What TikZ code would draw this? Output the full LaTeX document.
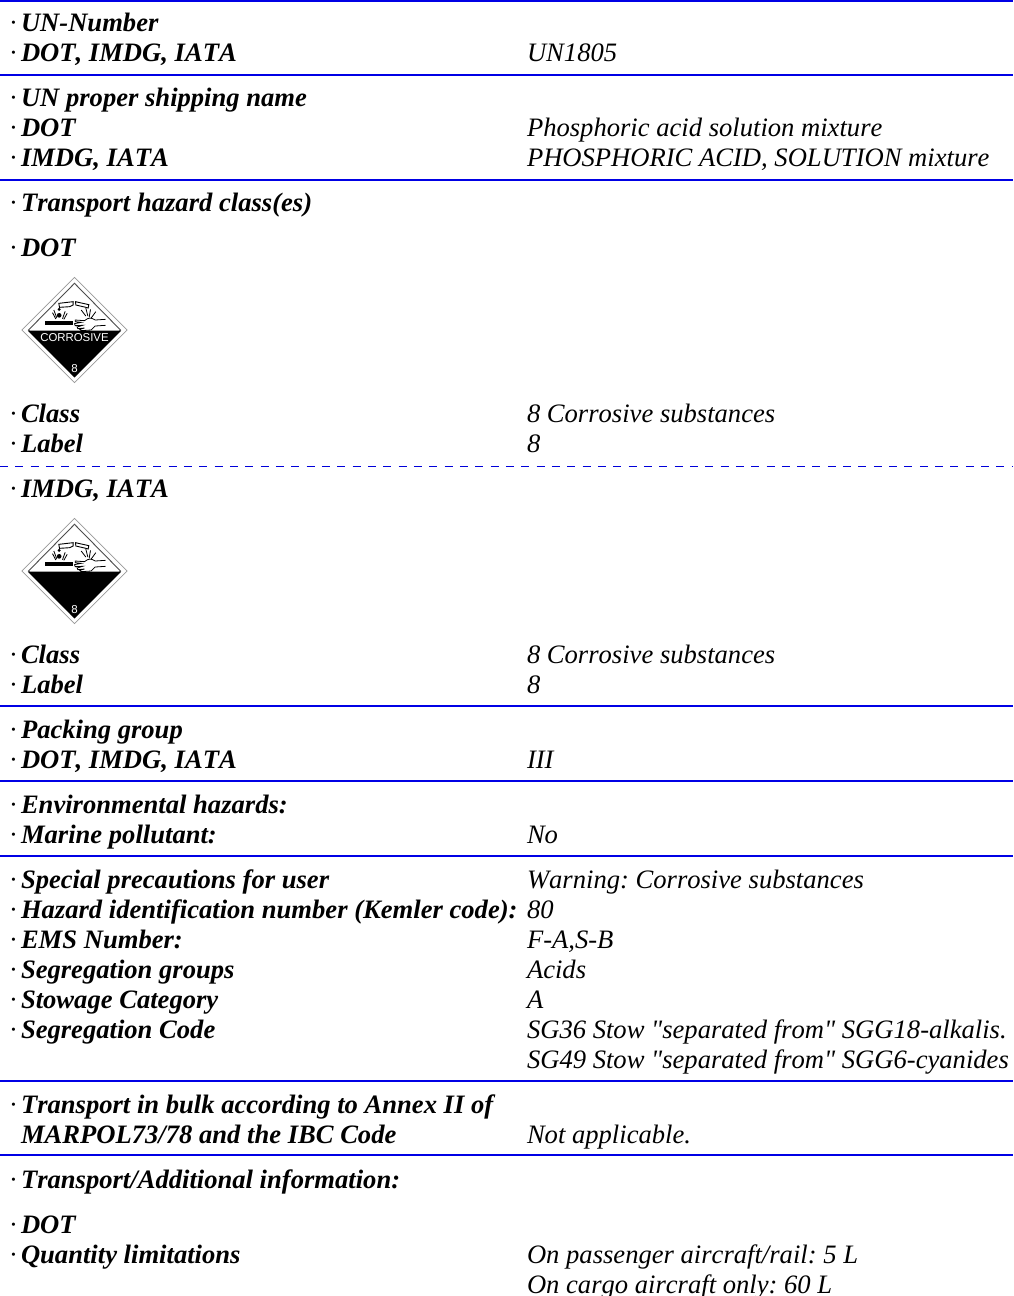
\documentclass[tikz,border=0pt]{standalone}
\usepackage{fontspec}
\setmainfont[Ligatures=TeXOff,Kerning=Off]{Liberation Serif}
\newfontfamily\arialf{Liberation Sans}
\frenchspacing
\tikzset{
 lab/.style={anchor=base west,inner sep=0pt,outer sep=0pt,font=\fontsize{26.6}{26.6}\selectfont\frenchspacing\bfseries\itshape},
 val/.style={anchor=base west,inner sep=0pt,outer sep=0pt,font=\fontsize{26.6}{26.6}\selectfont\frenchspacing\itshape},
 rule/.style={draw=blue!90!black,line width=1.6pt},
 dashrule/.style={draw=blue!85!black,line width=1pt,dash pattern=on 8pt off 7.33pt},
 sign/.style={draw=black!40,line width=0.8pt,fill=white},
 signin/.style={draw=black!70,line width=0.9pt},
 signtext/.style={inner sep=0pt,text=white},
}
\newcommand{\hazard}[2]{%
 \begin{scope}[shift={(#1)},scale=1/3]
  \draw[sign] (0,-158) -- (158,0) -- (0,158) -- (-158,0) -- cycle;
  \draw[signin] (0,-140) -- (138,0) -- (0,140) -- (-138,0) -- cycle;
  \fill[black] (-140,2) -- (140,2) -- (0,142) -- cycle;
  \fill[black] (-89,-27) rectangle (-4,-15);
  \draw[black,line width=0.9pt,fill=white] (-47,-80) -- (-4,-85) -- (-4,-75) -- (-14,-70) -- (-45,-68) -- cycle;
  \draw[black,line width=0.9pt,fill=white] (3,-85) -- (43,-76) -- (41,-66) -- (30,-69) -- (4,-75) -- cycle;
  \fill[black] (-46,-62) circle (5);
  \fill[black] (-46,-44) circle (7);
  \draw[black,line width=0.8pt] (-66,-52) -- (-56,-33) (-62,-60) -- (-53,-36) (-28,-56) -- (-36,-34) (-22,-50) -- (-32,-32);
  \draw[black,line width=0.8pt] (20,-60) -- (34,-42) (48,-62) -- (44,-38) (64,-55) -- (50,-36) (34,-66) -- (40,-42);
  \draw[black,line width=0.8pt,fill=white] (93,-32) -- (62,-30) .. controls (50,-38) and (42,-38) .. (30,-28) -- (2,-30) -- (2,-25) -- (20,-23) -- (0,-19) -- (2,-13) -- (24,-14) -- (8,-9) -- (10,-4) -- (30,-6) -- (16,-2) -- (20,2) -- (50,0) -- (62,-12) -- (93,-14);
  #2
 \end{scope}}
\begin{document}
\begin{tikzpicture}[x=1pt,y=-1pt]
\useasboundingbox (0,0) rectangle (1013,1296);
\coordinate (r0a) at (0,1);\coordinate (r0b) at (1013,1);
\coordinate (r1a) at (0,75);\coordinate (r1b) at (1013,75);
\coordinate (r2a) at (0,180);\coordinate (r2b) at (1013,180);
\coordinate (d1a) at (0,466);\coordinate (d1b) at (1013,466);
\coordinate (r3a) at (0,706);\coordinate (r3b) at (1013,706);
\coordinate (r4a) at (0,781);\coordinate (r4b) at (1013,781);
\coordinate (r5a) at (0,856);\coordinate (r5b) at (1013,856);
\coordinate (r6a) at (0,1081);\coordinate (r6b) at (1013,1081);
\coordinate (r7a) at (0,1155);\coordinate (r7b) at (1013,1155);
\foreach \r in {r0,r1,r2,r3,r4,r5,r6,r7}{\draw[rule] (\r a) -- (\r b);}
\draw[dashrule] (d1a) -- (d1b);
\hazard{74.5,330}{\node[signtext,font=\arialf\fontsize{11.4}{11.4}\selectfont] (corr) at (0,22) {CORROSIVE};
  \node[signtext,font=\arialf\fontsize{11.5}{11.5}\selectfont] (eighta) at (0,116) {8};}
\hazard{74.5,571}{\node[signtext,font=\arialf\fontsize{11.5}{11.5}\selectfont] (eightb) at (0,115) {8};}
\foreach \n/\y/\t in {
 a/31/UN-Number,b/61/{DOT, IMDG, IATA},c/106/UN proper shipping name,d/136/DOT,e/166/{IMDG, IATA},
 f/211/Transport hazard class(es),g/256/DOT,h/422/Class,i/452/Label,j/497/{IMDG, IATA},k/663/Class,l/693/Label,
 m/738/Packing group,n/768/{DOT, IMDG, IATA},o/813/Environmental hazards:,p/843/Marine pollutant:,
 q/888/Special precautions for user,r/918/Hazard identification number (Kemler code):,s/948/EMS Number:,t/978/Segregation groups,u/1008/Stowage Category,v/1038/Segregation Code,
 w/1113/Transport in bulk according to Annex II of,y/1188/{Transport/Additional information:},z/1233/DOT,aa/1263/Quantity limitations}{
 \node[lab] (L\n) at (21,\y) {\makebox[0pt][r]{\mdseries\upshape·\hspace{3pt}}\t};}
\node[lab] (Lx) at (21,1143) {MARPOL73/78 and the IBC Code};
\foreach \n/\y/\t in {
 b/61/UN1805,d/136/Phosphoric acid solution mixture,e/166/{PHOSPHORIC ACID, SOLUTION mixture},
 h/422/8 Corrosive substances,i/452/8,k/663/8 Corrosive substances,l/693/8,n/768/III,p/843/No,
 q/888/Warning: Corrosive substances,r/918/80,s/948/{F-A,S-B},t/978/Acids,u/1008/A,
 v/1038/SG36 Stow "separated from" SGG18-alkalis.,v2/1068/SG49 Stow "separated from" SGG6-cyanides,
 x/1143/Not applicable.,aa/1263/{On passenger aircraft/rail: 5 L},ab/1293/On cargo aircraft only: 60 L}{
 \node[val] (R\n) at (527,\y) {\t};}
\end{tikzpicture}
\end{document}
